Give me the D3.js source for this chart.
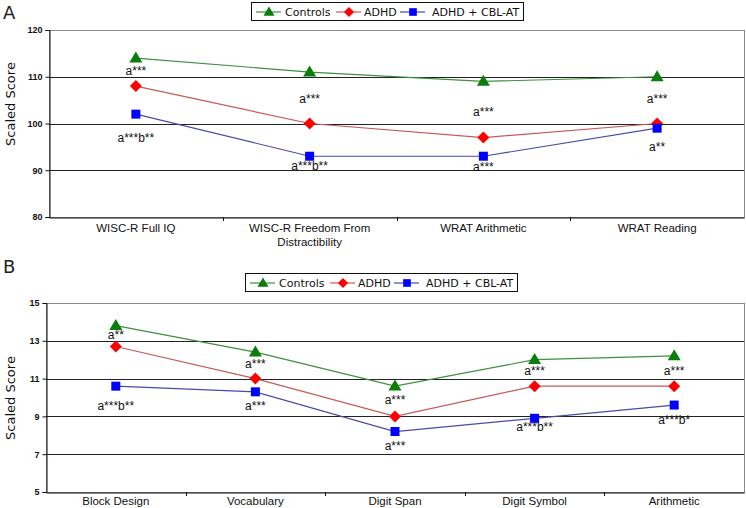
<!DOCTYPE html>
<html><head><meta charset="utf-8">
<script src="https://cdn.jsdelivr.net/npm/d3@7"></script>
<style>body{margin:0;background:#fff;} svg{display:block;}</style>
</head><body>
<svg id="chart" width="746" height="508"></svg>
<script>
// ---- Data ----
const seriesNames = ["Controls", "ADHD", "ADHD + CBL-AT"];

const catsA = ["WISC-R Full IQ", "WISC-R Freedom From|Distractibility", "WRAT Arithmetic", "WRAT Reading"];
const controlsA = [114, 111, 109, 110];
const adhdA = [108, 100, 97, 100];
const cblA = [102, 93, 93, 99];
const ticksA = [80, 90, 100, 110, 120];
const annotUpperA = ["a***", "a***", "a***", "a***"];
const annotUpperValA = [111.2, 105.3, 102.6, 105.3];
const annotLowerA = ["a***b**", "a***b**", "a***", "a**"];
const annotLowerValA = [97, 91, 90.8, 95.1];

const catsB = ["Block Design", "Vocabulary", "Digit Span", "Digit Symbol", "Arithmetic"];
const controlsB = [13.8, 12.4, 10.6, 12.0, 12.2];
const adhdB = [12.7, 11.0, 9.0, 10.6, 10.6];
const cblB = [10.6, 10.3, 8.2, 8.9, 9.6];
const ticksB = [5, 7, 9, 11, 13, 15];
const annotUpperB = ["a**", "a***", "a***", "a***", "a***"];
const annotUpperValB = [13.3, 11.77, 9.87, 11.4, 11.4];
const annotLowerB = ["a***b**", "a***", "a***", "a***b**", "a***b*"];
const annotLowerValB = [9.55, 9.55, 7.43, 8.44, 8.81];

// ---- Styles ----
const lineColors = ["#3f8f3f", "#c85a5a", "#4a4aa8"];
const markColors = ["#0a7d0a", "#ff0000", "#0000ff"];

const svg = d3.select("#chart");

function marker(g, i, x, y, s) {
  s = s || 1;
  let d;
  if (i === 0) { const w = 6.5 * s, h = 11 * s; d = `M0,${-h * 0.6}L${w},${h * 0.4}L${-w},${h * 0.4}Z`; }
  else if (i === 1) { const r = 6 * s; d = `M0,${-r}L${r},0L0,${r}L${-r},0Z`; }
  else { const r = 4.5 * s; d = `M${-r},${-r}H${r}V${r}H${-r}Z`; }
  g.append("path").attr("d", d).attr("transform", `translate(${x},${y})`).attr("fill", markColors[i]);
}

function panel(opt) {
  const g = svg.append("g");
  const x = d3.scaleBand().domain(opt.cats).range([opt.left, opt.right]);
  const y = d3.scaleLinear().domain(opt.domain).range([opt.bottom, opt.top]);

  g.append("text").attr("x", 3).attr("y", opt.letterY).text(opt.letter)
    .attr("font-family", "DejaVu Sans").attr("font-size", 18).attr("fill", "#222");

  g.append("rect").attr("x", opt.left + 0.5).attr("y", opt.top + 0.5)
    .attr("width", opt.right - opt.left).attr("height", opt.bottom - opt.top)
    .attr("fill", "none").attr("stroke", "#8a8a8a").attr("stroke-width", 1);

  g.selectAll(".grid").data(opt.ticks.slice(1, -1)).enter().append("line")
    .attr("x1", opt.left).attr("x2", opt.right)
    .attr("y1", d => Math.round(y(d)) + 0.5).attr("y2", d => Math.round(y(d)) + 0.5)
    .attr("stroke", "#222").attr("stroke-width", 1);

  const ya = d3.axisLeft(y).tickValues(opt.ticks).tickSize(4).tickPadding(3);
  const yg = g.append("g").attr("transform", `translate(${opt.left + 0.5},0)`).call(ya);
  yg.select(".domain").attr("stroke", "#111");
  yg.selectAll(".tick line").attr("stroke", "#111");
  yg.selectAll(".tick text").attr("font-family", "Liberation Sans, Arial").attr("font-weight", "bold")
    .attr("font-size", 9).attr("fill", "#111");

  const xa = d3.axisBottom(x).tickSize(0).tickPadding(8).tickFormat("");
  const xg = g.append("g").attr("transform", `translate(0,${opt.bottom + 0.5})`).call(xa);
  xg.select(".domain").attr("stroke", "#111");
  g.selectAll(".xt").data(opt.cats.slice(1)).enter().append("line")
    .attr("x1", d => Math.round(x(d)) + 0.5).attr("x2", d => Math.round(x(d)) + 0.5)
    .attr("y1", opt.bottom).attr("y2", opt.bottom + 4).attr("stroke", "#111");
  opt.cats.forEach(c => {
    const lines = c.split("|");
    const t = g.append("text").attr("x", x(c) + x.bandwidth() / 2).attr("y", opt.bottom + opt.labelDy)
      .attr("text-anchor", "middle").attr("font-family", "Liberation Sans, Arial")
      .attr("font-size", 11.5).attr("fill", "#111");
    lines.forEach((l, k) => t.append("tspan").attr("x", x(c) + x.bandwidth() / 2)
      .attr("dy", k === 0 ? 0 : 14).text(l));
  });

  g.append("text").attr("transform", `translate(15,${opt.titleY}) rotate(-90)`)
    .attr("text-anchor", "middle").attr("font-family", "DejaVu Sans").attr("font-size", 13)
    .attr("fill", "#111").text("Scaled Score");

  const cx = c => x(c) + x.bandwidth() / 2;
  opt.series.forEach((vals, i) => {
    const line = d3.line().x((d, k) => cx(opt.cats[k])).y(d => y(d));
    g.append("path").attr("d", line(vals)).attr("fill", "none")
      .attr("stroke", lineColors[i]).attr("stroke-width", 1.2);
  });
  opt.series.forEach((vals, i) => {
    vals.forEach((v, k) => marker(g, i, cx(opt.cats[k]), y(v)));
  });

  const ann = (labels, vals) => labels.forEach((l, k) => {
    g.append("text").attr("x", cx(opt.cats[k])).attr("y", y(vals[k])).attr("dy", "0.35em")
      .attr("text-anchor", "middle").attr("font-family", "Liberation Sans, Arial")
      .attr("font-size", 12).attr("fill", "#111").text(l);
  });
  ann(opt.annU, opt.annUV);
  ann(opt.annL, opt.annLV);

  const lg = g.append("g");
  lg.append("rect").attr("x", opt.legX + 0.5).attr("y", opt.legY + 0.5).attr("width", 272).attr("height", 18)
    .attr("fill", "#fff").attr("stroke", "#111");
  const itemX = [5, 85, 149];
  const textOff = [29, 28, 32];
  seriesNames.forEach((n, i) => {
    const ix = opt.legX + itemX[i];
    const iy = opt.legY + 10;
    lg.append("line").attr("x1", ix).attr("x2", ix + 25).attr("y1", iy).attr("y2", iy)
      .attr("stroke", lineColors[i]).attr("stroke-width", 1.2);
    marker(lg, i, ix + 13, iy, 0.85);
    lg.append("text").attr("x", ix + textOff[i]).attr("y", iy).attr("dy", "0.36em")
      .attr("font-family", "DejaVu Sans").attr("font-size", 11).attr("fill", "#111").text(n);
  });
}

panel({
  letter: "A", letterY: 19, cats: catsA, domain: [80, 120], ticks: ticksA,
  left: 49, right: 744, top: 30, bottom: 217, labelDy: 15, titleY: 104,
  series: [controlsA, adhdA, cblA],
  annU: annotUpperA, annUV: annotUpperValA, annL: annotLowerA, annLV: annotLowerValA,
  legX: 251, legY: 2
});
panel({
  letter: "B", letterY: 273, cats: catsB, domain: [5, 15], ticks: ticksB,
  left: 46, right: 744, top: 303, bottom: 492, labelDy: 13, titleY: 398,
  series: [controlsB, adhdB, cblB],
  annU: annotUpperB, annUV: annotUpperValB, annL: annotLowerB, annLV: annotLowerValB,
  legX: 245, legY: 273
});
</script>
</body></html>
